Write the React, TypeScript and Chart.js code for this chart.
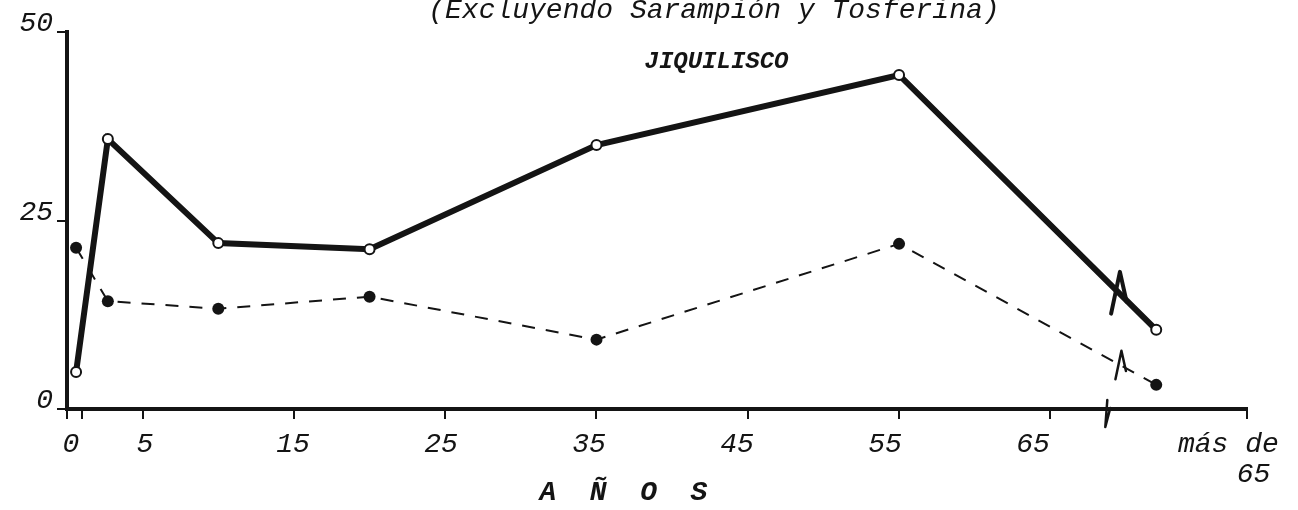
import React, { useEffect, useRef } from 'react';
import { Chart, registerables } from 'chart.js';

Chart.register(...registerables);

// ---- data ----
const AGES = [0.6, 2.7, 10, 20, 35, 55, 72];
const SERIES_SOLID = [4.9, 35.8, 22.0, 21.2, 35.0, 44.3, 10.5];
const SERIES_DASHED = [21.4, 14.3, 13.3, 14.9, 9.2, 21.9, 3.2];

const X_TICK_MARKS = [0, 1, 5, 15, 25, 35, 45, 55, 65, 78];
const X_LABEL_VALUES = [0, 5, 15, 25, 35, 45, 55, 65, 78.2];
const X_LABELS: (string | string[])[] = ['0', '5', '15', '25', '35', '45', '55', '65', ['más de', '   65']];
const Y_TICKS = [0, 25, 50];

const TITLE = '(Excluyendo Sarampión y Tosferina)';
const SUBTITLE = 'JIQUILISCO';
const X_TITLE = 'A  Ñ  O  S    ';

const LINE_BREAKS = [
  { dataset: 0, age: 69.6, size: 22, width: 4 },
  { dataset: 1, age: 69.7, size: 15, width: 2.5 },
];
const AXIS_BREAK_AGE = 68.7;

const INK = '#141414';
const MONO = '"Liberation Mono", "DejaVu Sans Mono", monospace';

const breakPlugin = {
  id: 'breakMarks',
  afterDatasetsDraw(chart: any) {
    const ctx = chart.ctx;
    const xs = chart.scales.x;
    const ys = chart.scales.y;
    ctx.save();
    ctx.strokeStyle = INK;
    ctx.lineJoin = 'round';
    ctx.lineCap = 'round';
    LINE_BREAKS.forEach((b) => {
      const pts = chart.getDatasetMeta(b.dataset).data;
      const px = xs.getPixelForValue(b.age);
      let py: number | null = null;
      for (let i = 0; i < pts.length - 1; i++) {
        const a = pts[i];
        const c = pts[i + 1];
        if (px >= a.x && px <= c.x) {
          py = a.y + ((c.y - a.y) * (px - a.x)) / (c.x - a.x);
          break;
        }
      }
      if (py === null) return;
      const s = b.size;
      ctx.lineWidth = b.width;
      ctx.beginPath();
      ctx.moveTo(px - 0.4 * s, py + 0.9 * s);
      ctx.lineTo(px, py - 1.0 * s);
      ctx.lineTo(px + 0.3 * s, py + 0.35 * s);
      ctx.stroke();
    });
    const ax = xs.getPixelForValue(AXIS_BREAK_AGE);
    const ay = ys.getPixelForValue(0);
    ctx.lineWidth = 2.5;
    ctx.beginPath();
    ctx.moveTo(ax + 1, ay - 9);
    ctx.lineTo(ax - 1, ay + 18);
    ctx.lineTo(ax + 4, ay - 1);
    ctx.stroke();
    ctx.restore();
  },
};

const titlePlugin = {
  id: 'handTitles',
  afterDraw(chart: any) {
    const ctx = chart.ctx;
    ctx.save();
    ctx.fillStyle = INK;
    ctx.textAlign = 'center';
    ctx.textBaseline = 'middle';
    ctx.font = `italic 28px ${MONO}`;
    ctx.fillText(TITLE, chart.width * 0.55, 11);
    ctx.font = `italic bold 24px ${MONO}`;
    ctx.fillText(SUBTITLE, chart.width * 0.552, 62);
    ctx.restore();
  },
};

export default function App() {
  const ref = useRef<HTMLCanvasElement | null>(null);

  useEffect(() => {
    if (!ref.current) return;
    const solid = AGES.map((a, i) => ({ x: a, y: SERIES_SOLID[i] }));
    const dashed = AGES.map((a, i) => ({ x: a, y: SERIES_DASHED[i] }));
    const chart = new Chart(ref.current, {
      type: 'line',
      data: {
        datasets: [
          {
            label: 'Total',
            data: solid,
            borderColor: INK,
            borderWidth: 6,
            tension: 0,
            pointRadius: 5,
            pointBorderWidth: 2,
            pointBackgroundColor: '#ffffff',
            pointBorderColor: INK,
            clip: false as any,
          },
          {
            label: 'Parcial',
            data: dashed,
            borderColor: INK,
            borderWidth: 2,
            borderDash: [13, 11],
            tension: 0,
            pointRadius: 6,
            pointBorderWidth: 0,
            pointBackgroundColor: INK,
            pointBorderColor: INK,
            clip: false as any,
          },
        ],
      },
      options: {
        responsive: false,
        animation: false,
        layout: { padding: { top: 32, right: 51, bottom: 0, left: 0 } },
        plugins: {
          legend: { display: false },
          tooltip: { enabled: false },
        },
        scales: {
          x: {
            type: 'linear',
            position: 'bottom',
            min: 0,
            max: 78,
            weight: 0,
            border: { display: true, color: INK, width: 4 },
            grid: { drawOnChartArea: false, drawTicks: true, tickLength: 10, color: INK, lineWidth: 2 },
            ticks: { display: false },
            afterBuildTicks: (scale: any) => {
              scale.ticks = X_TICK_MARKS.map((v) => ({ value: v }));
            },
            afterFit: (scale: any) => {
              scale.height = 12;
            },
          },
          xl: {
            type: 'linear',
            position: 'bottom',
            min: -0.27,
            max: 79.46,
            weight: 1,
            border: { display: false },
            grid: { display: false, drawTicks: false, tickLength: 0 },
            ticks: {
              autoSkip: false,
              maxRotation: 0,
              minRotation: 0,
              padding: 9,
              color: INK,
              font: { family: MONO, size: 28, style: 'italic', lineHeight: 1.05 },
              callback: (_v: any, i: number) => X_LABELS[i],
            },
            afterBuildTicks: (scale: any) => {
              scale.ticks = X_LABEL_VALUES.map((v) => ({ value: v }));
            },
            title: {
              display: true,
              text: X_TITLE,
              color: INK,
              font: { family: MONO, size: 28, style: 'italic', weight: 'bold', lineHeight: 1.05 },
              padding: { top: 0, bottom: 2 },
            },
            afterFit: (scale: any) => {
              scale.height = 89;
            },
          },
          y: {
            type: 'linear',
            min: 0,
            max: 50,
            border: { display: true, color: INK, width: 4 },
            grid: { drawOnChartArea: false, drawTicks: true, tickLength: 10, color: INK, lineWidth: 2 },
            ticks: {
              padding: 4,
              labelOffset: -8,
              color: INK,
              font: { family: MONO, size: 28, style: 'italic' },
            },
            afterBuildTicks: (scale: any) => {
              scale.ticks = Y_TICKS.map((v) => ({ value: v }));
            },
            afterFit: (scale: any) => {
              scale.width = 67;
            },
          },
        },
      } as any,
      plugins: [breakPlugin, titlePlugin],
    });
    return () => chart.destroy();
  }, []);

  return (
    <div style={{ position: 'fixed', left: 0, top: 0, width: 1298, height: 510, background: '#fff' }}>
      <canvas ref={ref} width={1298} height={510} />
    </div>
  );
}
